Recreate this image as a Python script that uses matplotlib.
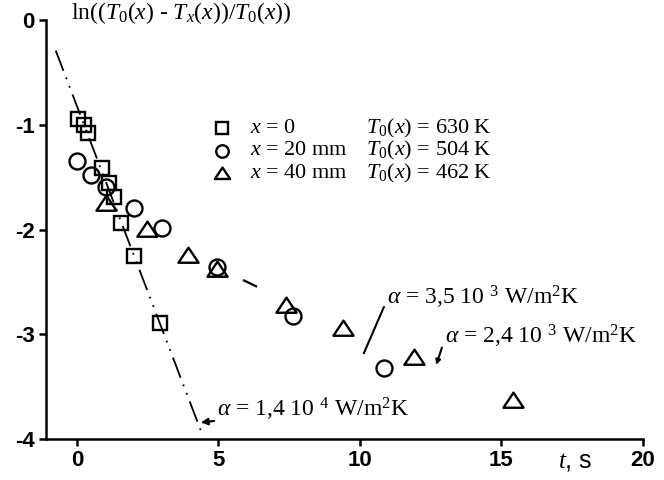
import numpy as np
import matplotlib
matplotlib.use('Agg')
import matplotlib.pyplot as plt
from matplotlib.path import Path

plt.rcParams['font.family'] = 'Liberation Sans'
plt.rcParams['axes.unicode_minus'] = False
plt.rcParams['mathtext.fontset'] = 'custom'
plt.rcParams['mathtext.rm'] = 'Liberation Serif'
plt.rcParams['mathtext.it'] = 'Liberation Serif:italic'

# measured points, t in s, y = ln((T0 - Tx)/T0)
t_x0 = [0.04, 0.25, 0.39, 0.89, 1.14, 1.32, 1.57, 2.03, 2.95]
y_x0 = [-0.94, -1.00, -1.08, -1.41, -1.55, -1.69, -1.94, -2.25, -2.89]

t_x20 = [0.0, 0.5, 1.03, 2.03, 2.99, 4.95, 7.65, 10.85]
y_x20 = [-1.34, -1.48, -1.59, -1.79, -1.98, -2.36, -2.82, -3.32]

t_x40 = [1.03, 2.46, 3.91, 4.95, 7.4, 9.4, 11.9, 15.4]
y_x40 = [-1.75, -1.99, -2.24, -2.38, -2.72, -2.94, -3.22, -3.63]

# fitted lines
fit1_t = [-0.75, 4.41]
fit1_y = [-0.29, -3.94]
fit2_t = [5.87, 6.6]
fit2_y = [-2.48, -2.575]

legend_x = ['$x$ = 0', '$x$ = 20 mm', '$x$ = 40 mm']
legend_T0 = ['$T_0(x)$ = 630 K', '$T_0(x)$ = 504 K', '$T_0(x)$ = 462 K']

tri = Path([(-1, -0.72), (1, -0.72), (0, 0.78), (-1, -0.72)],
           [Path.MOVETO, Path.LINETO, Path.LINETO, Path.CLOSEPOLY])

fig = plt.figure(figsize=(6.64, 4.8), dpi=100)
ax = fig.add_axes([0.069, 0.085, 0.899, 0.873])

serif = 'Liberation Serif'
mk = dict(linestyle='none', markerfacecolor='none', markeredgecolor='black',
          markeredgewidth=1.7, clip_on=False)

ax.plot(fit1_t, fit1_y, color='black', lw=1.3, dashes=(12, 4, 1, 4, 1, 4))
ax.plot(fit2_t, fit2_y, color='black', lw=1.6, dashes=(7, 5, 1.5, 5))

ax.plot(t_x0, y_x0, marker='s', markersize=9.5, **mk)
ax.plot(t_x20, y_x20, marker='o', markersize=11.5, **mk)
ax.plot(t_x40, y_x40, marker=tri, markersize=14.5, **mk)

# legend
for i, (m, ms) in enumerate([('s', 8), ('o', 9), (tri, 11)]):
    yy = -1.03 - 0.215 * i
    ax.plot([5.12], [yy], marker=m, markersize=ms, **mk)
    ax.text(6.1, yy, legend_x[i], fontsize=16, family=serif, va='center')
    ax.text(10.2, yy, legend_T0[i], fontsize=16, family=serif, va='center')

# heat transfer coefficient annotations
ax.annotate(r'$\alpha$ = 1,4 10 $^4$ W/m$^2$K', xy=(4.38, -3.84), xytext=(4.95, -3.72),
            fontsize=17, family=serif, va='center',
            arrowprops=dict(arrowstyle='-|>', color='black', lw=1.5,
                            mutation_scale=10, shrinkA=0, shrinkB=0))
ax.annotate(r'$\alpha$ = 3,5 10 $^3$ W/m$^2$K', xy=(10.14, -3.18), xytext=(10.95, -2.65),
            fontsize=17, family=serif, va='center',
            arrowprops=dict(arrowstyle='-', color='black', lw=1.5,
                            shrinkA=0, shrinkB=0, relpos=(0, 0.4)))
ax.annotate(r'$\alpha$ = 2,4 10 $^3$ W/m$^2$K', xy=(12.7, -3.29), xytext=(13.0, -3.02),
            fontsize=17, family=serif, va='center',
            arrowprops=dict(arrowstyle='-|>', color='black', lw=1.5,
                            mutation_scale=7, shrinkA=0, shrinkB=0, relpos=(0, 0.4)))

ax.text(-0.2, 0.07, r'$\mathrm{ln}((T_0(x)$ - $T_x(x))/T_0(x))$', fontsize=17,
        family=serif, va='center', ha='left')
ax.text(17.6, -4.09, '$t$, s', fontsize=18, va='top', ha='center')

ax.set_xlim(-1.1, 20)
ax.set_ylim(-4, 0)
ax.set_xticks([0, 5, 10, 15, 20])
ax.set_yticks([0, -1, -2, -3, -4])
ax.set_xticklabels(['0', '5', '10', '15', '20'])
ax.set_yticklabels(['0', '-1', '-2', '-3', '-4'])
for s in ['top', 'right']:
    ax.spines[s].set_visible(False)
for s in ['left', 'bottom']:
    ax.spines[s].set_linewidth(1.8)
ax.tick_params(direction='out', length=5, width=1.8, labelsize=16, pad=3)
for lab in ax.get_xticklabels() + ax.get_yticklabels():
    lab.set_fontweight('bold')

fig.savefig('out.png', dpi=100)
